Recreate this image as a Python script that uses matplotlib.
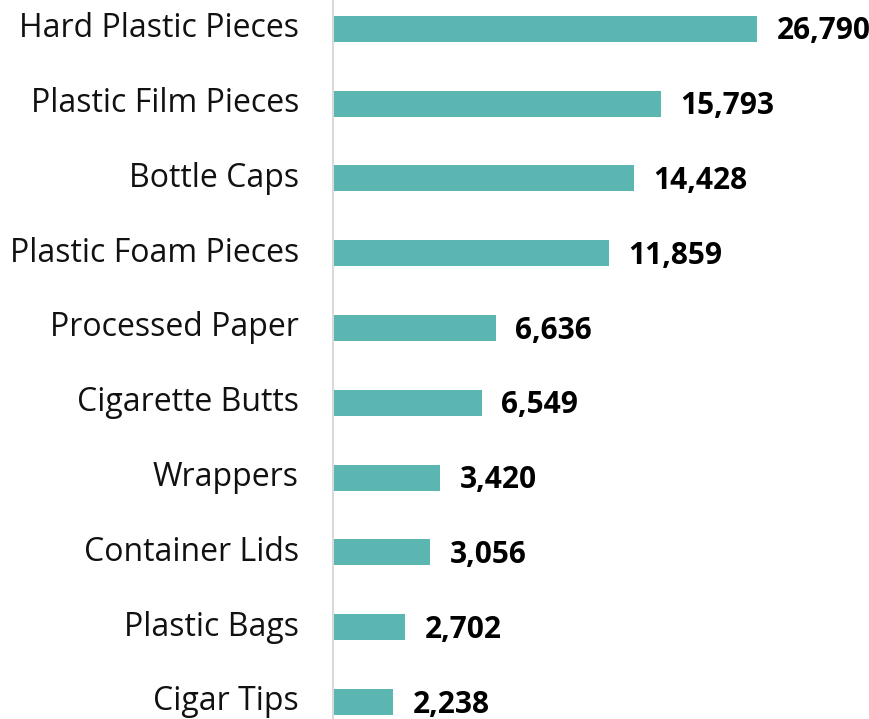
import matplotlib.pyplot as plt

categories = ["Hard Plastic Pieces", "Plastic Film Pieces", "Bottle Caps",
              "Plastic Foam Pieces", "Processed Paper", "Cigarette Butts",
              "Wrappers", "Container Lids", "Plastic Bags", "Cigar Tips"]
counts = [26790, 15793, 14428, 11859, 6636, 6549, 3420, 3056, 2702, 2238]
# bar lengths as drawn in the original (not proportional to the labels),
# read off the picture in the same units as the top bar
bar_lengths = [26790, 20720, 19020, 17440, 10300, 9410, 6760, 6130, 4550, 3790]

fig = plt.figure(figsize=(8.69, 7.19), dpi=100)
ax = fig.add_axes([333 / 869, 0, 1 - 333 / 869, 1])

ypos = list(range(len(categories)))
ax.barh(ypos, bar_lengths, height=0.348, color='#5BB6B1')

for y, length, c, name in zip(ypos, bar_lengths, counts, categories):
    ax.annotate(f"{c:,}", xy=(length, y), xytext=(14, -7.7),
                textcoords='offset points', ha='left', va='baseline',
                fontsize=21.5, fontweight='bold', family='Open Sans',
                color='black')
    ax.annotate(name, xy=(0, y), xytext=(-24.5, -6.1),
                textcoords='offset points', ha='right', va='baseline',
                fontsize=23, family='Open Sans', color='#111111',
                annotation_clip=False)

ax.set_yticks([])
ax.set_xticks([])
ax.set_xlim(0, 26790 * (869 - 333) / 424)
ax.set_ylim(9.227, -0.384)

for side in ['top', 'right', 'bottom']:
    ax.spines[side].set_visible(False)
ax.spines['left'].set_color('#d9d9d9')
ax.spines['left'].set_linewidth(1.5)

fig.savefig('out.png', dpi=100)
